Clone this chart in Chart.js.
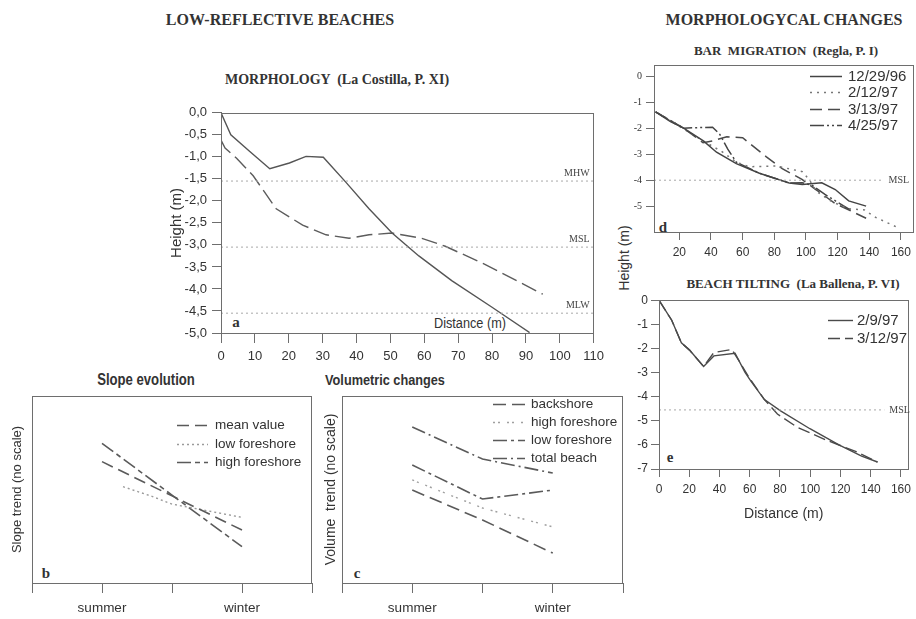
<!DOCTYPE html>
<html><head><meta charset="utf-8">
<script src="https://cdn.jsdelivr.net/npm/chart.js@4.4.1/dist/chart.umd.min.js"></script>
<style>
html,body{margin:0;padding:0;background:#fff;}
body{width:916px;height:619px;position:relative;overflow:hidden;}
canvas{position:absolute;}
.t{position:absolute;white-space:pre;color:#333;font-family:'Liberation Serif','Times New Roman',serif;font-weight:bold;transform:translate(-50%,-50%);line-height:1;}
.s{font-family:'Liberation Sans',Arial,sans-serif;}
.q{transform:translate(-50%,-50%) scaleX(0.82);}
.n{font-weight:normal;}
.r{transform:translate(-50%,-50%) rotate(-90deg);}
</style></head><body>
<div class="t" style="left:280px;top:20px;font-size:16px">LOW-REFLECTIVE BEACHES</div>
<div class="t" style="left:337px;top:80px;font-size:14px">MORPHOLOGY  (La Costilla, P. XI)</div>
<div class="t" style="left:784px;top:20px;font-size:16px">MORPHOLOGYCAL CHANGES</div>
<div class="t" style="left:786px;top:50px;font-size:13px">BAR  MIGRATION  (Regla, P. I)</div>
<div class="t" style="left:793px;top:283px;font-size:13px">BEACH TILTING  (La Ballena, P. VI)</div>
<div class="t s q" style="left:146px;top:380px;font-size:16px">Slope evolution</div>
<div class="t s q" style="left:385px;top:380px;font-size:15.5px">Volumetric changes</div>
<div class="t s n q" style="left:470px;top:323px;font-size:15.5px">Distance (m)</div>
<div class="t n r s" style="left:624px;top:258px;font-size:14px">Height (m)</div>
<div class="t" style="left:236px;top:322px;font-size:15px">a</div>
<div class="t" style="left:46px;top:573px;font-size:15px">b</div>
<div class="t" style="left:357px;top:573px;font-size:15px">c</div>
<div class="t" style="left:663px;top:227px;font-size:15px">d</div>
<div class="t" style="left:670px;top:457px;font-size:15px">e</div>

<canvas id="ca" width="450" height="275" style="left:160px;top:100px"></canvas>
<canvas id="cb" width="330" height="229" style="left:0px;top:390px"></canvas>
<canvas id="cc" width="310" height="229" style="left:320px;top:390px"></canvas>
<canvas id="cd" width="296" height="215" style="left:620px;top:55px"></canvas>
<canvas id="ce" width="286" height="241" style="left:630px;top:290px"></canvas>
<script>
// ---------- DATA ----------
// Panel a: Morphology (La Costilla, P. XI)
const aSolidX = [0, 2.9, 8.5, 14.4, 20.2, 25.1, 30.2, 36.9, 43.7, 50.5, 58.4, 68.1, 79.9, 91.1];
const aSolidY = [0, -0.5, -0.88, -1.27, -1.14, -0.99, -1.01, -1.58, -2.18, -2.73, -3.25, -3.81, -4.41, -4.99];
const aDashX = [0, 1.2, 4.6, 9.5, 16.3, 24.1, 31, 37.8, 43.7, 50.5, 59.3, 66.2, 77.9, 95];
const aDashY = [-0.62, -0.8, -1.03, -1.43, -2.18, -2.55, -2.77, -2.85, -2.77, -2.73, -2.85, -3.03, -3.44, -4.12];
const aRefNames = ['MHW', 'MSL', 'MLW'];
const aRefLevels = [-1.55, -3.05, -4.55];
const aRefSpan = [0, 110];
const aTicksX = [0, 10, 20, 30, 40, 50, 60, 70, 80, 90, 100, 110];
const aTicksY = [0, -0.5, -1, -1.5, -2, -2.5, -3, -3.5, -4, -4.5, -5];

// Panels b, c: season axis
const seasonTickPos = [0, 1, 2, 3, 4];
const seasonTickLabels = ['', 'summer', '', 'winter', ''];

// Panel b: Slope evolution
const bMeanX = [1, 2, 3];
const bMeanY = [6.49, 4.66, 2.83];
const bLowX = [1.3, 1.7, 2, 3];
const bLowY = [5.15, 4.65, 4.22, 3.51];
const bHighX = [1, 2, 3];
const bHighY = [7.47, 4.7, 1.94];

// Panel c: Volumetric changes
const cX = [1, 2, 3];
const cBackshore = [4.97, 3.37, 1.6];
const cHighForeshore = [5.51, 4.01, 3.0];
const cLowForeshore = [6.31, 4.49, 4.97];
const cTotalBeach = [8.34, 6.63, 5.88];

// Panel d: Bar migration (Regla, P. I)
const d1X = [5, 14.4, 22.7, 35.2, 43.5, 56, 70.6, 89.4, 97.7, 110, 118.5, 127, 138];
const d1Y = [-1.36, -1.74, -1.99, -2.48, -2.92, -3.36, -3.73, -4.11, -4.17, -4.1, -4.36, -4.8, -5.0];
const d2X = [5, 35, 47, 56, 64, 81, 97.7, 102, 107, 117, 127, 137, 143.5, 157];
const d2Y = [-1.36, -2.48, -2.9, -3.3, -3.48, -3.45, -3.67, -3.98, -4.45, -4.85, -5.1, -5.15, -5.42, -5.8];
const d3X = [5, 22.7, 35, 41, 50, 60, 75, 85, 97.5, 106, 118.5, 138];
const d3Y = [-1.36, -1.99, -2.55, -2.48, -2.32, -2.36, -3.1, -3.55, -3.97, -4.35, -4.9, -5.47];
const d4X = [5, 22.7, 41, 45.6, 50.6, 56, 70.6, 89.4, 97.7, 104, 112, 120, 128];
const d4Y = [-1.36, -1.99, -1.95, -2.23, -2.8, -3.3, -3.73, -4.11, -4.1, -4.2, -4.55, -4.85, -5.15];
const dMslLevel = -4.0;
const dMslSpan = [4, 149];
const dTicksX = [20, 40, 60, 80, 100, 120, 140, 160];
const dTicksY = [0, -1, -2, -3, -4, -5];

// Panel e: Beach tilting (La Ballena, P. VI)
const e1X = [0, 8.4, 14.8, 20.2, 29.5, 36.3, 50.3, 56.8, 61, 69.7, 80.4, 99.8, 119, 134, 144.5];
const e1Y = [0, -0.83, -1.77, -2.07, -2.75, -2.31, -2.2, -2.98, -3.38, -4.12, -4.59, -5.33, -6.0, -6.47, -6.71];
const e2X = [0, 8.4, 14.8, 20.2, 29.5, 36.3, 48.2, 52.5, 60, 69.7, 78.3, 91.2, 110.5, 130, 144.5];
const e2Y = [0, -0.83, -1.77, -2.07, -2.75, -2.17, -2.04, -2.47, -3.25, -4.12, -4.72, -5.26, -5.8, -6.27, -6.71];
const eMslLevel = -4.55;
const eMslSpan = [0, 149];
const eTicksX = [0, 20, 40, 60, 80, 100, 120, 140, 160];
const eTicksY = [0, -1, -2, -3, -4, -5, -6, -7];

// ---------- HELPERS ----------
const SANS = "'Liberation Sans',Arial,sans-serif";
const SERIF = "'Liberation Serif','Times New Roman',serif";
const AXIS = '#6e6e6e';
const LINE = '#555';
const TXT = '#333';
Chart.defaults.animation = false;
Chart.defaults.devicePixelRatio = 1;

const pts = (xs, ys) => xs.map((x, i) => ({x: x, y: ys[i]}));
const flat = (span, lvl) => span.map(x => ({x: x, y: lvl}));

function line(label, xs, ys, dash, color, width) {
  return {label: label, data: pts(xs, ys), borderColor: color || LINE, borderWidth: width || 1.4,
    borderDash: dash || [], pointRadius: 0, fill: false, tension: 0};
}
function ref(label, span, lvl) {
  return {label: label, refLabel: true, data: flat(span, lvl), borderColor: '#a8a8a8', borderWidth: 1,
    borderDash: [2, 3], pointRadius: 0, fill: false};
}

const framePlugin = {id: 'frame', afterDatasetsDraw(chart) {
  const ctx = chart.ctx, a = chart.chartArea;
  const l = Math.round(a.left) + 0.5, t = Math.round(a.top) + 0.5, r = Math.round(a.right) - 0.5, b = Math.round(a.bottom) + 0.5;
  ctx.save(); ctx.strokeStyle = AXIS; ctx.lineWidth = 1;
  ctx.strokeRect(l, t, r - l, b - t); ctx.restore();
}};

const refLabelPlugin = {id: 'refLabels', afterDatasetsDraw(chart, args, o) {
  const ctx = chart.ctx;
  chart.data.datasets.forEach((ds, i) => {
    if (!ds.refLabel) return;
    const meta = chart.getDatasetMeta(i);
    const last = meta.data[meta.data.length - 1];
    ctx.save(); ctx.font = o.font; ctx.fillStyle = '#444';
    if (o.mode === 'above') {
      ctx.textAlign = 'right'; ctx.textBaseline = 'bottom';
      ctx.fillText(ds.label, chart.chartArea.right - o.dx, last.y - o.dy);
    } else {
      ctx.textAlign = 'left'; ctx.textBaseline = 'middle';
      ctx.fillText(ds.label, last.x + o.dx, last.y);
    }
    ctx.restore();
  });
}};

const innerLegend = {id: 'innerLegend', afterDatasetsDraw(chart, args, o) {
  if (!o || !o.show) return;
  const ctx = chart.ctx;
  const items = chart.data.datasets.filter(d => !d.refLabel);
  items.forEach((ds, row) => {
    const y = Math.round(o.y + row * o.row) + 0.5;
    ctx.save();
    ctx.strokeStyle = ds.borderColor; ctx.lineWidth = ds.borderWidth; ctx.setLineDash(ds.borderDash || []);
    ctx.beginPath(); ctx.moveTo(o.x, y); ctx.lineTo(o.x + o.len, y); ctx.stroke();
    ctx.setLineDash([]);
    ctx.fillStyle = TXT; ctx.font = o.font; ctx.textBaseline = 'middle'; ctx.textAlign = 'left';
    ctx.fillText(ds.label, o.x + o.len + o.gap, y);
    ctx.restore();
  });
}};

function axisX(o) {
  return {type: 'linear', min: o.min, max: o.max,
    afterFit: s => { s.height = o.h; },
    afterBuildTicks: s => { s.ticks = o.ticks.map(v => ({value: v})); },
    ticks: {autoSkip: false, maxRotation: 0, color: TXT, padding: o.pad, font: o.font,
      callback: o.cb || (v => v)},
    grid: {display: true, drawOnChartArea: false, drawTicks: true, tickLength: o.tl, color: AXIS},
    border: {display: true, color: AXIS},
    title: o.title || {display: false}};
}
function axisY(o) {
  return {type: 'linear', min: o.min, max: o.max,
    afterFit: s => { s.width = o.w; },
    afterBuildTicks: o.ticks ? (s => { s.ticks = o.ticks.map(v => ({value: v})); }) : undefined,
    ticks: {display: !!o.ticks, autoSkip: false, color: TXT, padding: o.pad || 3, font: o.font,
      callback: o.cb || (v => v)},
    grid: {display: !!o.ticks, drawOnChartArea: false, drawTicks: true, tickLength: o.tl || 8, color: AXIS},
    border: {display: true, color: AXIS},
    title: o.title || {display: false}};
}
function make(id, datasets, scales, layoutPad, plugOpts) {
  return new Chart(document.getElementById(id), {
    type: 'line',
    data: {datasets: datasets},
    options: {responsive: false, animation: false, devicePixelRatio: 1,
      layout: {padding: layoutPad},
      scales: scales,
      plugins: Object.assign({legend: {display: false}, tooltip: {enabled: false}}, plugOpts || {})},
    plugins: [framePlugin, refLabelPlugin, innerLegend]
  });
}

// ---------- PANEL a ----------
make('ca',
  aRefNames.map((n, i) => ref(n, aRefSpan, aRefLevels[i])).concat([
    line('profile 1', aSolidX, aSolidY, [], '#555', 1.4),
    line('profile 2', aDashX, aDashY, [16, 6], '#5c5c5c', 1.4)
  ]),
  {x: axisX({min: 0, max: 110, h: 42, ticks: aTicksX, pad: 6, tl: 10, font: {family: SANS, size: 13}}),
   y: axisY({min: -5, max: 0, w: 61, ticks: aTicksY, pad: 5, tl: 9, font: {family: SANS, size: 13},
     cb: v => v.toFixed(1).replace('.', ','),
     title: {display: true, text: 'Height (m)', color: TXT, font: {family: SANS, size: 15}, padding: {top: 8, bottom: 0}}})},
  {top: 9, right: 14, left: 0, bottom: 0},
  {refLabels: {mode: 'above', dx: 4, dy: 3, font: '10px ' + SERIF}});

// ---------- PANEL b ----------
make('cb',
  [line('mean value', bMeanX, bMeanY, [12, 6], '#5a5a5a', 1.6),
   line('low foreshore', bLowX, bLowY, [2, 3], '#9a9a9a', 1.4),
   line('high foreshore', bHighX, bHighY, [14, 4, 5, 4], '#5a5a5a', 1.6)],
  {x: axisX({min: 0, max: 4, h: 36, ticks: seasonTickPos, pad: 7, tl: 10, font: {family: SANS, size: 13.5},
     cb: (v, i) => seasonTickLabels[i]}),
   y: axisY({min: 0, max: 10, w: 32,
     title: {display: true, text: 'Slope trend (no scale)', color: TXT, font: {family: SANS, size: 13}, padding: {top: 10, bottom: 0}}})},
  {top: 6, right: 18, left: 0, bottom: 0},
  {innerLegend: {show: true, x: 177, y: 35, row: 18.5, len: 31, gap: 7, font: '13.5px ' + SANS}});

// ---------- PANEL c ----------
make('cc',
  [line('backshore', cX, cBackshore, [13, 6], '#5a5a5a', 1.6),
   line('high foreshore', cX, cHighForeshore, [2, 3, 2, 7], '#a0a0a0', 1.4),
   line('low foreshore', cX, cLowForeshore, [14, 4, 3, 4], '#5a5a5a', 1.6),
   line('total beach', cX, cTotalBeach, [14, 4, 2, 4], '#5a5a5a', 1.6)],
  {x: axisX({min: 0, max: 4, h: 36, ticks: seasonTickPos, pad: 7, tl: 10, font: {family: SANS, size: 13.5},
     cb: (v, i) => seasonTickLabels[i]}),
   y: axisY({min: 0, max: 10, w: 22,
     title: {display: true, text: 'Volume  trend (no scale)', color: TXT, font: {family: SANS, size: 14}, padding: {top: 3, bottom: 0}}})},
  {top: 6, right: 7, left: 0, bottom: 0},
  {innerLegend: {show: true, x: 173, y: 14, row: 18, len: 32, gap: 6, font: '13.5px ' + SANS}});

// ---------- PANEL d ----------
make('cd',
  [ref('MSL', dMslSpan, dMslLevel),
   line('12/29/96', d1X, d1Y, [], '#444', 1.5),
   line('2/12/97', d2X, d2Y, [2, 5], '#777', 1.5),
   line('3/13/97', d3X, d3Y, [12, 6], '#4a4a4a', 1.5),
   line('4/25/97', d4X, d4Y, [14, 3, 2, 3, 2, 3], '#444', 1.5)],
  {x: axisX({min: 4, max: 168, h: 38, ticks: dTicksX, pad: 5, tl: 8, font: {family: SANS, size: 12}}),
   y: axisY({min: -6, max: 0.45, w: 34, ticks: dTicksY, pad: 4, tl: 8, font: {family: SERIF, size: 10}})},
  {top: 5, right: 1, left: 0, bottom: 0},
  {refLabels: {mode: 'right', dx: 5, font: '10px ' + SERIF},
   innerLegend: {show: true, x: 190, y: 21, row: 16.3, len: 32, gap: 6, font: '15px ' + SANS}});

// ---------- PANEL e ----------
make('ce',
  [ref('MSL', eMslSpan, eMslLevel),
   line('2/9/97', e1X, e1Y, [], '#4a4a4a', 1.4),
   line('3/12/97', e2X, e2Y, [12, 5], '#4a4a4a', 1.4)],
  {x: axisX({min: 0, max: 165, h: 62, ticks: eTicksX, pad: 5, tl: 8, font: {family: SANS, size: 12},
     title: {display: true, text: 'Distance (m)', color: TXT, font: {family: SANS, size: 14}, padding: {top: 0, bottom: 8}}}),
   y: axisY({min: -7, max: 0, w: 29, ticks: eTicksY, pad: 3, tl: 8, font: {family: SANS, size: 12}})},
  {top: 6, right: 1, left: 0, bottom: 0},
  {refLabels: {mode: 'right', dx: 5, font: '10px ' + SERIF},
   innerLegend: {show: true, x: 198, y: 30, row: 18, len: 25, gap: 4, font: '15px ' + SANS}});
</script>
</body></html>
